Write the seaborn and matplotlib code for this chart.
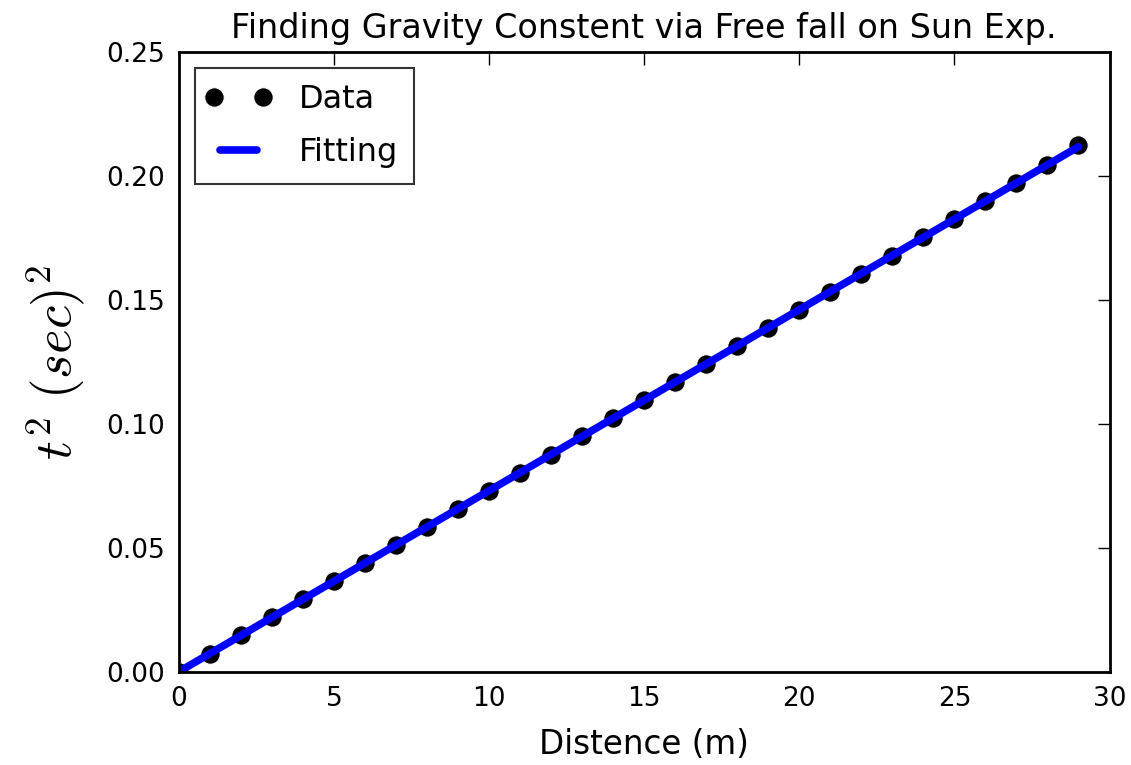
import numpy as np
import pandas as pd
import matplotlib
matplotlib.use("Agg")
import matplotlib.pyplot as plt
from matplotlib.legend_handler import HandlerLine2D
import seaborn as sns

# Fall distance (m) and squared fall time (s^2)
distance = [0, 1, 2, 3, 4, 5, 6, 7, 8, 9, 10, 11, 12, 13, 14,
            15, 16, 17, 18, 19, 20, 21, 22, 23, 24, 25, 26, 27, 28, 29]
t_squared = [0.0, 0.0073, 0.0146, 0.0219, 0.0292, 0.0365, 0.0438, 0.0511,
             0.0584, 0.0657, 0.0730, 0.0803, 0.0876, 0.0949, 0.1022, 0.1095,
             0.1168, 0.1241, 0.1314, 0.1387, 0.1460, 0.1533, 0.1606, 0.1679,
             0.1752, 0.1825, 0.1898, 0.1971, 0.2044, 0.2124]

x_ticks = [0, 5, 10, 15, 20, 25, 30]
y_ticks = [0.00, 0.05, 0.10, 0.15, 0.20, 0.25]

df = pd.DataFrame({"distance": distance, "t2": t_squared})

# Linear least-squares fit through the measurements
slope, intercept = np.polyfit(df["distance"], df["t2"], 1)
df["fit"] = slope * df["distance"] + intercept

sns.set_style("white")
plt.rcParams["font.family"] = ["DejaVu Sans"]
plt.rcParams["mathtext.fontset"] = "cm"
plt.rcParams["text.color"] = "black"
plt.rcParams["axes.labelcolor"] = "black"

fig, ax = plt.subplots(figsize=(11.31, 7.65), dpi=100)
fig.subplots_adjust(left=0.158, right=0.981, top=0.932, bottom=0.122)

sns.lineplot(data=df, x="distance", y="t2", ax=ax, color="black",
             marker="o", markersize=14, linestyle="", label="Data")
sns.lineplot(data=df, x="distance", y="fit", ax=ax, color="#0000ff",
             linewidth=5.5, label="Fitting")

ax.set_xlim(0, 30)
ax.set_ylim(0, 0.25)
ax.set_xticks(x_ticks)
ax.set_yticks(y_ticks)
ax.set_yticklabels([f"{v:.2f}" for v in y_ticks])

ax.tick_params(direction="in", length=9, width=1, top=True, right=True,
               labelsize=19, colors="black")
ax.tick_params(axis="x", pad=10)
ax.tick_params(axis="y", pad=10)
for sp in ax.spines.values():
    sp.set_color("black")
    sp.set_linewidth(2)

ax.set_title("Finding Gravity Constent via Free fall on Sun Exp.",
             fontsize=24, pad=10, color="black")
ax.set_xlabel("Distence (m)", fontsize=23.5, labelpad=12)
ax.set_ylabel(r"$t^2\ (sec)^2$", fontsize=38, labelpad=14)

handles, labels = ax.get_legend_handles_labels()
leg = ax.legend(handles, labels, loc="upper left", numpoints=2, fontsize=23,
                frameon=True, fancybox=False, edgecolor="black",
                borderaxespad=0.5, handlelength=1.75, handletextpad=1.0,
                borderpad=0.5, labelspacing=0.68,
                handler_map={handles[0]: HandlerLine2D(marker_pad=0.12)})
leg.get_frame().set_linewidth(1.5)
for txt in leg.get_texts():
    txt.set_color("black")

fig.savefig("out.png", dpi=100, facecolor="white")
